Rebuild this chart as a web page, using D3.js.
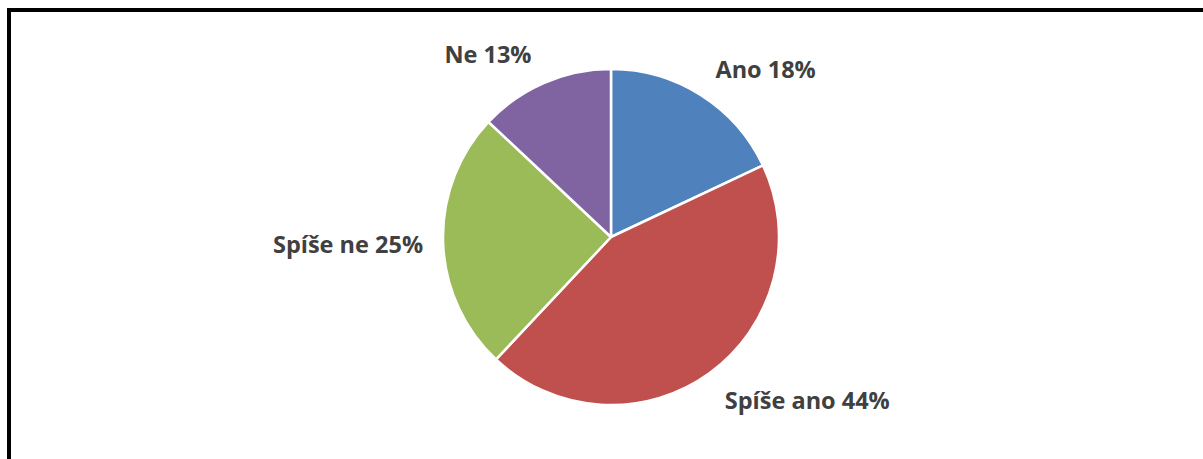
<!DOCTYPE html>
<html><head><meta charset="utf-8">
<script src="https://cdn.jsdelivr.net/npm/d3@7"></script>
<style>html,body{margin:0;padding:0;background:#fff;overflow:hidden}</style>
</head><body>
<svg id="chart" width="1203" height="459"></svg>
<script>
const categories = ["Ano", "Spíše ano", "Spíše ne", "Ne"];
const values = [18, 44, 25, 13];
const colors = ["#4F81BD", "#C0504D", "#9BBB59", "#8064A2"];

const svg = d3.select("#chart");
const W = 1203, H = 459;
svg.append("rect").attr("x", 9).attr("y", 10).attr("width", W + 20).attr("height", H + 20)
  .attr("fill", "#fff").attr("stroke", "#000").attr("stroke-width", 4);

const cx = 611, cy = 237, R = 168;
const data = categories.map((c, i) => ({ name: c, value: values[i], color: colors[i] }));
const pie = d3.pie().value(d => d.value).sort(null);
const arcs = pie(data);
const arc = d3.arc().innerRadius(0).outerRadius(R);
const g = svg.append("g").attr("transform", `translate(${cx},${cy})`);
g.selectAll("path").data(arcs).join("path")
  .attr("d", arc).attr("fill", d => d.data.color)
  .attr("stroke", "#fff").attr("stroke-width", 2.5).attr("stroke-linejoin", "round");

const labelArc = d3.arc().innerRadius(R + 12).outerRadius(R + 12);
g.selectAll("text").data(arcs).join("text")
  .each(function(d) {
    const [x, y] = labelArc.centroid(d);
    const mid = (d.startAngle + d.endAngle) / 2;
    const right = x >= 0;
    d3.select(this)
      .attr("x", x + (right ? 8 : -8))
      .attr("y", y + 10 - 20 * Math.cos(mid))
      .attr("text-anchor", right ? "start" : "end");
  })
  .attr("font-family", "'Open Sans', sans-serif")
  .attr("font-weight", "bold").attr("font-size", 23.5).attr("fill", "#404040")
  .text(d => `${d.data.name} ${d.data.value}%`);
</script>
</body></html>
